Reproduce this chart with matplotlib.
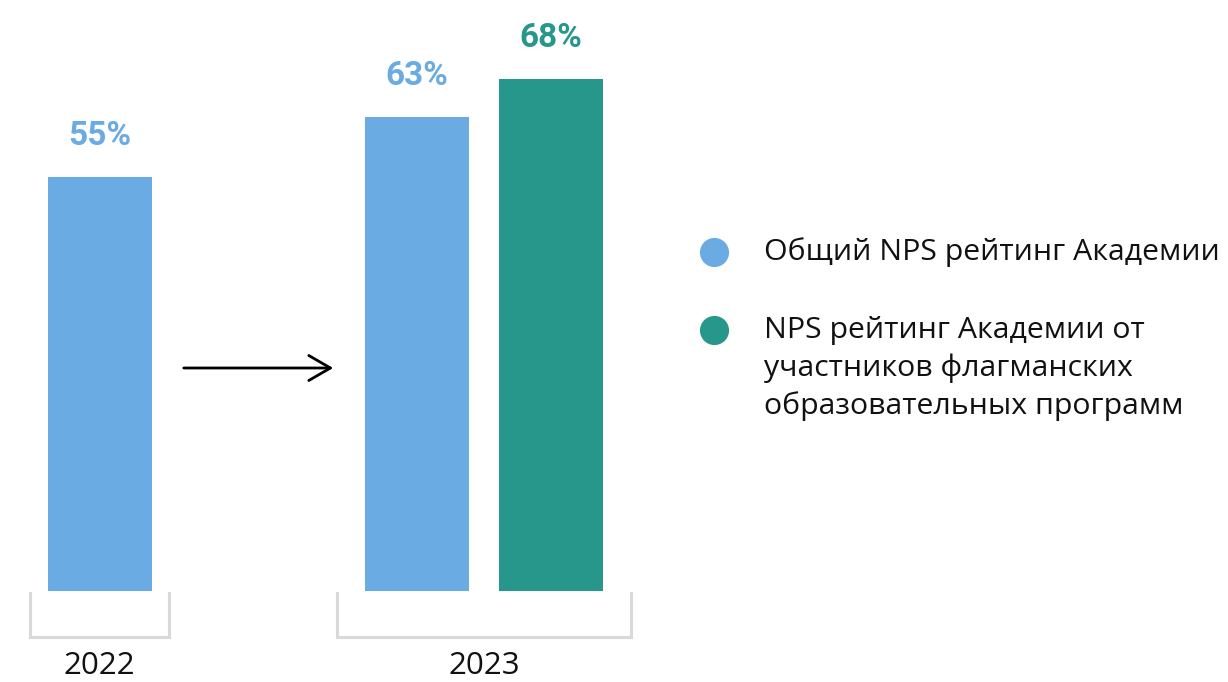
import matplotlib
matplotlib.use("Agg")
import matplotlib.pyplot as plt
from matplotlib.patches import FancyArrowPatch

plt.rcParams['font.family'] = ['Open Sans', 'DejaVu Sans']

# ---- data ----
years = ["2022", "2023"]
series_names = ["Общий NPS рейтинг Академии",
                "NPS рейтинг Академии от\nучастников флагманских\nобразовательных программ"]
colors = ["#6aabe3", "#26978a"]
bar_years = ["2022", "2023", "2023"]
bar_series = [0, 0, 1]
bar_values = [55, 63, 68]
bar_labels = ["55%", "63%", "68%"]

W, H = 1228, 682
fig = plt.figure(figsize=(W / 100, H / 100), dpi=100)
ax = fig.add_axes([0, 0, 1, 1])
px_per_unit = 7.527
base_px = 91  # baseline from bottom
ax.set_xlim(0, W)
ax.set_ylim(-base_px / px_per_unit, (H - base_px) / px_per_unit)
ax.axis('off')

bar_centers = [99.5, 417, 551]
bar_width = 104
for xc, v, s, lab in zip(bar_centers, bar_values, bar_series, bar_labels):
    ax.bar(xc, v, width=bar_width, color=colors[s], linewidth=0)
    ax.annotate(lab, (xc, v), xytext=(0, 29.5), textcoords='offset points',
                ha='center', va='center', fontsize=24, fontweight='bold',
                family=['Roboto', 'DejaVu Sans'], color=colors[s])

def py(y_top):
    return (H - y_top - base_px) / px_per_unit

# brackets
brackets = [(30, 169), (337, 631)]
for (x0, x1), yr in zip(brackets, years):
    ax.plot([x0, x0, x1, x1], [py(593), py(637), py(637), py(593)],
            color="#d9d9d9", lw=2.2, solid_joinstyle='miter')
    ax.text((x0 + x1) / 2, py(666), yr, ha='center', va='center',
            fontsize=22.5, color='#111111')

# arrow
arr = FancyArrowPatch((181, py(368)), (336, py(368)),
                      arrowstyle='->,head_length=1.3,head_width=0.75',
                      color='black', lw=2.0, mutation_scale=12)
ax.add_patch(arr)

# legend
leg_y = [252, 330]
for i in range(len(series_names)):
    ax.scatter([714], [py(leg_y[i])], s=440, color=colors[i], linewidths=0)

ax.text(764, py(252), series_names[0], ha='left', va='center',
        fontsize=21.8, color='#111111')
ax.text(764, py(330) + 14 / px_per_unit, series_names[1], ha='left', va='top',
        fontsize=21.8, color='#111111', linespacing=1.36)

fig.savefig("out.png", dpi=100)
